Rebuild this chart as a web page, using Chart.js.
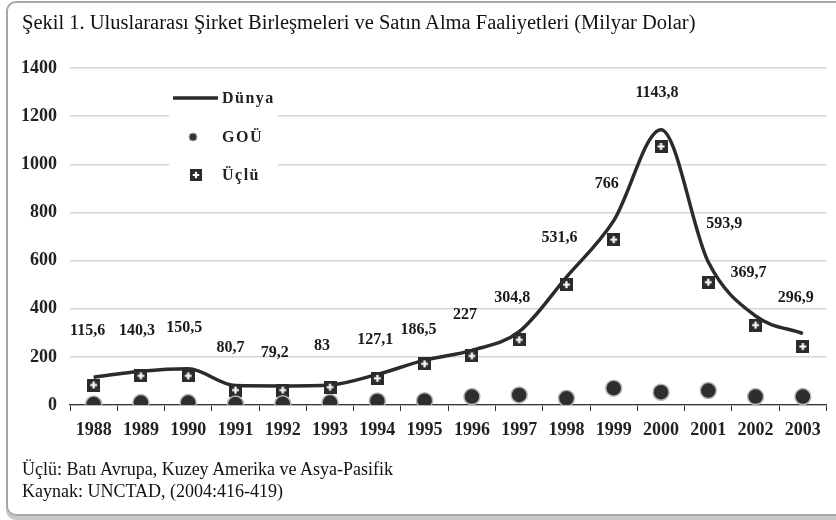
<!DOCTYPE html>
<html>
<head>
<meta charset="utf-8">
<script src="https://cdn.jsdelivr.net/npm/chart.js@4"></script>
<style>
  html, body { margin:0; padding:0; width:836px; height:520px; overflow:hidden; background:#fff; }
  #frame { position:absolute; left:6px; top:1px; width:900px; height:511px; border:2px solid #a6a6a6; border-radius:10px; box-shadow:0 4px 0 #c8c8c8; }
  #c { position:absolute; left:0; top:0; }
  .txt { position:absolute; font-family:"Liberation Serif","Times New Roman",serif; color:#111; white-space:nowrap; }
  #title { left:22px; top:11px; font-size:20.5px; }
  #note1 { left:22px; top:459px; font-size:18px; }
  #note2 { left:22px; top:481px; font-size:18px; }
</style>
</head>
<body>
<div id="frame"></div>
<canvas id="c" width="836" height="520"></canvas>
<div class="txt" id="title">Şekil 1. Uluslararası Şirket Birleşmeleri ve Satın Alma Faaliyetleri (Milyar Dolar)</div>
<div class="txt" id="note1">Üçlü: Batı Avrupa, Kuzey Amerika ve Asya-Pasifik</div>
<div class="txt" id="note2">Kaynak: UNCTAD, (2004:416-419)</div>
<script>
const years = ['1988','1989','1990','1991','1992','1993','1994','1995','1996','1997','1998','1999','2000','2001','2002','2003'];
const dunya = [115.6,140.3,150.5,80.7,79.2,83,127.1,186.5,227,304.8,531.6,766,1143.8,593.9,369.7,296.9];
const dunyaLabels = ['115,6','140,3','150,5','80,7','79,2','83','127,1','186,5','227','304,8','531,6','766','1143,8','593,9','369,7','296,9'];
const gou = [4,10,10,4,5,10,17,18,35,42,28,70,53,60,35,35];
const uclu = [83,121,121,62,62,74,111,171,204,271,500,687,1074,510,332,243];
const yTicks = [0,200,400,600,800,1000,1200,1400];

const serif = '"Liberation Serif","Times New Roman",serif';

// label placement offsets (pixels, relative to each Dünya point)
const labelDx = [-6,-4,-4,-5,-8,-8,-2,-6,-7,-7,-7,-7,-4,16,-7,-7];
const labelDy = [-46,-40,-41,-38,-33,-39,-35,-30,-35,-34,-39,-37,-37,-38,-43,-36];

// square with white plus marker
function makeSquare(size){
  const cv = document.createElement('canvas');
  cv.width = size; cv.height = size;
  const g = cv.getContext('2d');
  g.fillStyle = '#2b2b2b';
  g.fillRect(0,0,size,size);
  g.strokeStyle = '#fff';
  g.lineWidth = 2.2;
  const m = size/2, a = size*0.23;
  g.beginPath();
  g.moveTo(m, a); g.lineTo(m, size-a);
  g.moveTo(a, m); g.lineTo(size-a, m);
  g.stroke();
  return cv;
}
const sq = makeSquare(13);
const sqLegend = makeSquare(12);

const legendPlugin = {
  id:'legendBox',
  beforeDatasetsDraw(chart){
    const ctx = chart.ctx;
    ctx.save();
    ctx.fillStyle = '#fff';
    ctx.fillRect(169, 80, 109, 110);
    ctx.fillStyle = '#222';
    ctx.font = 'bold 16px ' + serif;
    ctx.letterSpacing = '1.5px';
    ctx.textBaseline = 'middle';
    ctx.textAlign = 'left';
    ctx.strokeStyle = '#2b2b2b';
    ctx.lineWidth = 3.5;
    ctx.beginPath(); ctx.moveTo(173, 98); ctx.lineTo(218, 98); ctx.stroke();
    ctx.fillText('Dünya', 222, 99);
    ctx.beginPath(); ctx.arc(193, 137, 4, 0, Math.PI*2);
    ctx.fillStyle = '#333'; ctx.fill();
    ctx.lineWidth = 1; ctx.strokeStyle = '#aaa'; ctx.stroke();
    ctx.fillStyle = '#222';
    ctx.fillText('GOÜ', 222, 138);
    ctx.drawImage(sqLegend, 190, 169);
    ctx.fillText('Üçlü', 222, 176);
    ctx.restore();
  }
};

const labelPlugin = {
  id:'dataLabels',
  afterDatasetsDraw(chart){
    const ctx = chart.ctx;
    const meta = chart.getDatasetMeta(0);
    ctx.save();
    ctx.font = 'bold 16px ' + serif;
    ctx.fillStyle = '#1a1a1a';
    ctx.textAlign = 'center';
    ctx.textBaseline = 'middle';
    meta.data.forEach((pt, i) => {
      ctx.fillText(dunyaLabels[i], pt.x + labelDx[i], pt.y + labelDy[i]);
    });
    ctx.restore();
  }
};

new Chart(document.getElementById('c'), {
  type:'line',
  data:{
    labels: years,
    datasets:[
      { label:'Dünya', data: dunya, borderColor:'#2b2b2b', borderWidth:3.5, cubicInterpolationMode:'monotone', pointRadius:0, fill:false, order:3 },
      { label:'Üçlü', data: uclu, showLine:false, pointStyle: sq, pointRadius:7, order:2 },
      { label:'GOÜ', data: gou, showLine:false, pointStyle:'circle', pointRadius:8, backgroundColor:'#2e2e2e', borderColor:'#b5b5b5', borderWidth:1.5, order:1 }
    ]
  },
  options:{
    responsive:false,
    animation:false,
    layout:{ padding:{ top:68, left:0, right:2, bottom:75 } },
    plugins:{ legend:{display:false}, tooltip:{enabled:false}, title:{display:false} },
    scales:{
      x:{
        offset:true,
        grid:{ display:true, drawOnChartArea:false, drawTicks:true, tickLength:6, color:'#333', offset:true },
        border:{ display:true, color:'#333', width:1.2 },
        ticks:{ color:'#222', font:{ family:serif, size:18, weight:'bold' }, padding:9, maxRotation:0, autoSkip:false },
        afterFit(s){ s.height = 40; }
      },
      y:{
        min:0, max:1400,
        afterBuildTicks(s){ s.ticks = yTicks.map(v => ({value:v})); },
        grid:{ color:'#d6d6d6', lineWidth:1.5, drawTicks:false },
        border:{ display:false },
        ticks:{ color:'#222', font:{ family:serif, size:18, weight:'bold' }, padding:13, callback:(v) => String(v) },
        afterFit(s){ s.width = 70; }
      }
    }
  },
  plugins:[legendPlugin, labelPlugin]
});
</script>
</body>
</html>
